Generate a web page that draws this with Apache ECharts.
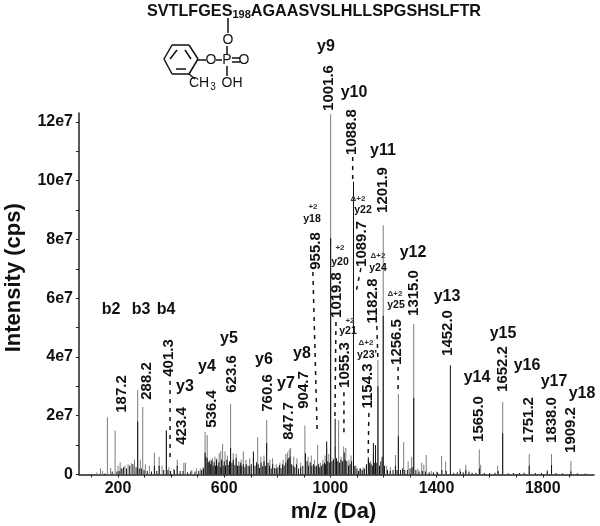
<!DOCTYPE html>
<html>
<head>
<meta charset="utf-8">
<style>
  html, body { margin: 0; padding: 0; background: #fff; }
  #chart { width: 600px; height: 526px; }
</style>
<script src="https://cdn.jsdelivr.net/npm/echarts@6/dist/echarts.min.js"></script>
</head>
<body>
<div id="chart"></div>
<script>
// ---------- Data (m/z, intensity in units of 1e7) ----------

const xTickLabels = [200, 600, 1000, 1400, 1800];
const xTicks = [100, 200, 300, 400, 500, 600, 700, 800, 900, 1000, 1100, 1200, 1300, 1400, 1500, 1600, 1700, 1800, 1900];
const yTickLabels = [0, 2, 4, 6, 8, 10, 12];
const yTicks = [0, 1, 2, 3, 4, 5, 6, 7, 8, 9, 10, 11, 12];

const greyPeaks = [
  [120, 0.07], [134, 0.2], [142, 0.12], [160, 1.95], [172, 0.22], [189, 1.5], [200, 0.3], [208, 0.42], [216, 0.2],
  [226, 0.3], [238, 0.35], [250, 0.38], [262, 0.5], [274, 2.87], [284, 0.5], [293, 2.3], [303, 0.35], [318, 0.3],
  [337, 0.74], [355, 0.6], [366, 0.3], [382, 1.5], [392, 0.25], [410, 0.2], [423, 0.5], [448, 0.4], [454, 0.4],
  [478, 0.15], [496, 0.2], [510, 0.2], [520, 0.25], [528, 1.45], [536, 1.34], [547, 0.5], [556, 0.55], [565, 0.6],
  [572, 0.55], [581, 0.72], [587, 0.8], [594, 1.04], [603, 0.78], [612, 0.65], [624, 2.4], [634, 0.72], [645, 0.7],
  [655, 0.45], [664, 0.5], [672, 0.78], [682, 0.5], [696, 0.55], [710, 0.6], [726, 1.27], [738, 0.6], [750, 0.65],
  [760, 1.85], [772, 0.5], [782, 0.55], [796, 0.35], [810, 0.4], [822, 0.5], [832, 0.7], [838, 0.75], [845, 0.85],
  [850, 0.9], [862, 0.6], [874, 0.55], [888, 0.4], [904, 1.67], [916, 0.6], [928, 0.65], [940, 0.5], [952, 1.0],
  [962, 0.4], [972, 0.5], [980, 0.65], [986, 0.9], [994, 0.7], [1001, 12.26], [1010, 0.55], [1018, 0.95], [1031, 1.85],
  [1040, 0.6], [1050, 0.95], [1058, 0.9], [1070, 0.5], [1078, 0.65], [1087, 2.0], [1096, 0.3], [1110, 0.2], [1124, 0.25],
  [1135, 0.3], [1143, 0.6], [1152, 0.45], [1162, 0.7], [1170, 0.75], [1179, 3.9], [1199, 8.48], [1212, 0.3], [1226, 0.25],
  [1245, 0.66], [1256, 2.74], [1276, 1.1], [1293, 0.44], [1306, 0.6], [1314, 5.12], [1330, 0.2], [1344, 0.4], [1352, 0.33],
  [1361, 0.66], [1380, 0.12], [1400, 0.1], [1419, 0.63], [1434, 0.44], [1488, 0.2], [1510, 0.33], [1561, 0.85], [1566, 0.33],
  [1630, 0.3], [1649, 2.47], [1749, 0.7], [1817, 0.15], [1833, 0.7], [1906, 0.46]
];

const blackPeaks = [
  [150, 0.03], [178, 0.1], [196, 0.1], [204, 0.12], [212, 0.2], [221, 0.25], [232, 0.2], [244, 0.3], [256, 0.35],
  [268, 0.25], [274, 1.8], [280, 0.2], [288, 0.2], [298, 0.15], [310, 0.12], [326, 0.1], [337, 0.3], [346, 0.12],
  [355, 0.3], [372, 0.15], [382, 1.5], [388, 0.15], [398, 0.12], [412, 0.15], [423, 0.3], [434, 0.12], [445, 0.12],
  [462, 0.08], [474, 0.1], [490, 0.1], [504, 0.12], [515, 0.15], [522, 0.2], [528, 0.75], [531, 0.6], [536, 0.55],
  [540, 0.42], [544, 0.45], [549, 0.35], [553, 0.48], [558, 0.3], [562, 0.42], [567, 0.3], [571, 0.5], [576, 0.3],
  [580, 0.42], [585, 0.25], [590, 0.5], [596, 0.3], [600, 0.45], [605, 0.3], [610, 0.5], [615, 0.32], [620, 0.45],
  [624, 0.9], [629, 0.4], [634, 0.5], [640, 0.32], [645, 0.55], [650, 0.3], [656, 0.3], [661, 0.4], [666, 0.3],
  [672, 0.35], [678, 0.25], [683, 0.35], [690, 0.3], [696, 0.28], [702, 0.35], [710, 0.78], [716, 0.3], [722, 0.42],
  [728, 0.35], [733, 0.22], [739, 0.4], [745, 0.28], [750, 0.45], [755, 0.3], [760, 1.07], [765, 0.4], [771, 0.3],
  [777, 0.2], [783, 0.35], [790, 0.22], [796, 0.2], [802, 0.25], [808, 0.32], [814, 0.22], [820, 0.35], [826, 0.3],
  [832, 0.4], [838, 0.5], [843, 0.55], [848, 0.6], [854, 0.35], [860, 0.3], [866, 0.25], [872, 0.35], [880, 0.2],
  [888, 0.25], [896, 0.3], [906, 0.72], [912, 0.45], [918, 0.3], [924, 0.42], [930, 0.3], [936, 0.35], [942, 0.28],
  [948, 0.3], [955, 0.35], [960, 0.25], [966, 0.3], [972, 0.35], [978, 0.4], [982, 0.35], [986, 1.12], [990, 0.45],
  [996, 0.4], [1001, 8.05], [1006, 0.45], [1012, 0.5], [1018, 1.9], [1023, 0.55], [1028, 0.45], [1034, 0.4], [1040, 0.5],
  [1046, 0.45], [1052, 0.75], [1056, 0.5], [1062, 0.45], [1068, 0.3], [1074, 0.35], [1080, 0.45], [1087, 9.96], [1092, 0.3],
  [1100, 0.2], [1106, 0.12], [1114, 0.2], [1120, 0.15], [1128, 0.2], [1136, 0.35], [1143, 0.55], [1148, 0.4], [1153, 0.35],
  [1158, 0.3], [1162, 1.07], [1167, 0.4], [1170, 1.0], [1175, 0.4], [1179, 3.0], [1185, 0.3], [1190, 0.45], [1195, 0.6],
  [1199, 5.4], [1204, 0.3], [1215, 0.15], [1225, 0.12], [1236, 0.15], [1245, 0.3], [1251, 0.15], [1256, 1.3], [1264, 0.15],
  [1272, 0.2], [1280, 0.15], [1290, 0.15], [1300, 0.2], [1308, 0.25], [1314, 2.6], [1322, 0.15], [1334, 0.1], [1346, 0.12],
  [1358, 0.1], [1372, 0.08], [1388, 0.08], [1404, 0.08], [1420, 0.15], [1436, 0.12], [1452, 3.72], [1465, 0.06], [1478, 0.08],
  [1490, 0.1], [1500, 0.08], [1510, 0.15], [1522, 0.1], [1534, 0.06], [1548, 0.06], [1561, 0.2], [1580, 0.05], [1600, 0.05],
  [1620, 0.06], [1632, 0.12], [1649, 1.4], [1670, 0.04], [1690, 0.05], [1712, 0.05], [1730, 0.06], [1749, 0.3], [1772, 0.05],
  [1795, 0.05], [1817, 0.1], [1833, 0.32], [1850, 0.05], [1875, 0.04], [1906, 0.1], [1930, 0.04], [1960, 0.03]
];

// Dashed leaders from a label down to its peak: [mz from, value from, mz to, value to]
const leaders = [
  [396, 3.18, 396, 0.43],
  [934, 6.89, 950, 1.51],
  [1021, 5.19, 1017, 1.92],
  [1051, 2.8, 1051, 1.27],
  [1084, 10.8, 1084, 10.0],
  [1115, 7.02, 1096, 6.17],
  [1145, 2.09, 1142, 0.56],
  [1175, 5.05, 1179, 3.9],
  [1255, 3.66, 1255, 2.8]
];

const sequenceHead = 'SVTLFGES';
const sequenceSite = '198';
const sequenceTail = 'AGAASVSLHLLSPGSHSLFTR';

// ---------- Annotation layout (pixels) ----------

const FONT = '"Liberation Sans", Arial, sans-serif';

const ionNames = [
  ['b2', 111, 310], ['b3', 141, 310], ['b4', 166, 310], ['y3', 185, 387], ['y4', 207, 367], ['y5', 229, 339],
  ['y6', 264, 360], ['y7', 286, 384], ['y8', 302, 354], ['y9', 326, 47], ['y10', 354, 93], ['y11', 383, 151],
  ['y12', 413, 253], ['y13', 447, 297], ['y14', 477, 378], ['y15', 503, 334], ['y16', 527, 366], ['y17', 554, 382],
  ['y18', 582, 394]
];

const massLabels = [
  ['187.2', 122, 394], ['288.2', 147, 381], ['401.3', 169, 358], ['423.4', 182, 426], ['536.4', 212, 409],
  ['623.6', 232, 374], ['760.6', 268, 393], ['847.7', 289, 421], ['904.7', 304, 390], ['955.8', 316, 251],
  ['1001.6', 329, 88], ['1019.8', 337, 295], ['1055.3', 345, 365], ['1088.8', 352, 132], ['1089.7', 362, 244],
  ['1154.3', 368, 386], ['1182.8', 373, 301], ['1201.9', 383, 190], ['1256.5', 397, 342], ['1315.0', 414, 293],
  ['1452.0', 448, 333], ['1565.0', 479, 419], ['1652.2', 503, 369], ['1751.2', 529, 420], ['1838.0', 552, 420],
  ['1909.2', 571, 430]
];

// small multiply-charged ion tags
const smallIons = [
  ['y18', 312, 219], ['y20', 340, 262], ['y21', 348, 331], ['y22', 363, 210], ['y23\'', 367, 355], ['y24', 378, 268], ['y25', 396, 305]
];
const chargeTags = [
  ['+2', 313, 207], ['+2', 340, 248], ['+2', 350, 321], ['\u0394+2', 358, 199], ['\u0394+2', 366, 343], ['\u0394+2', 378, 256], ['\u0394+2', 395, 294]
];

// ring, bonds of the tolyl phosphate sketch
const bonds = [
  [164, 59, 172, 45], [172, 45, 189, 45], [189, 45, 198, 59], [198, 59, 189, 74], [189, 74, 172, 74], [172, 74, 164, 59],
  [170, 59, 177, 50], [185, 50, 191, 59], [176, 69, 186, 69], [189, 74, 195, 79],
  [198, 60, 206, 60], [216, 60, 222, 60], [228, 18, 228, 33], [227, 46, 227, 54], [227, 66, 227, 76],
  [232, 58, 240, 58], [232, 62, 240, 62]
];
const atoms = [
  ['O', 228, 40], ['O', 211, 60], ['P', 227, 60], ['O', 244, 60], ['OH', 232, 83], ['CH', 199, 83]
];

function textEl(text, x, y, font, rotated, fill) {
  return {
    type: 'text', x, y, rotation: rotated ? Math.PI / 2 : 0, silent: true, z: 10,
    style: { text, font, fill: fill || '#111', textAlign: 'center', textVerticalAlign: 'middle' },
  };
}

function buildGraphics() {
  const els = [];
  ionNames.forEach(([t, x, y]) => els.push(textEl(t, x, y, `bold 16px ${FONT}`)));
  massLabels.forEach(([t, x, y]) => els.push(textEl(t, x, y, `bold 15px ${FONT}`, true)));
  smallIons.forEach(([t, x, y]) => els.push(textEl(t, x, y, `bold 10.5px ${FONT}`)));
  chargeTags.forEach(([t, x, y]) => els.push(textEl(t, x, y, `bold 8px ${FONT}`, false, '#333')));
  bonds.forEach(([x1, y1, x2, y2]) => els.push({
    type: 'line', silent: true, shape: { x1, y1, x2, y2 },
    style: { stroke: '#111', lineWidth: 1.5 },
  }));
  atoms.forEach(([t, x, y]) => els.push(textEl(t, x, y, `14px ${FONT}`)));
  els.push(textEl('3', 213, 87, `10px ${FONT}`));
  els.push({
    type: 'text', x: 147, y: 12, silent: true,
    style: {
      text: `${sequenceHead}{s|${sequenceSite}}${sequenceTail}`,
      font: `bold 16.2px ${FONT}`, fill: '#111', textAlign: 'left', textVerticalAlign: 'middle',
      rich: { s: { font: `bold 11px ${FONT}`, fill: '#111', verticalAlign: 'bottom', padding: [5, 0, 0, 0] } },
    },
  });
  return els;
}

// ---------- Chart ----------

const leaderPoints = [];
leaders.forEach(([x1, y1, x2, y2]) => {
  leaderPoints.push([x1, y1], [x2, y2], [null, null]);
});

const chart = echarts.init(document.getElementById('chart'), null, { renderer: 'canvas' });

chart.setOption({
  animation: false,
  backgroundColor: '#fff',
  textStyle: { fontFamily: FONT },
  grid: { left: 79, top: 113, width: 515, height: 361.5, outerBoundsMode: 'none' },
  xAxis: {
    type: 'value', min: 53, max: 1993,
    name: 'm/z (Da)', nameLocation: 'middle', nameGap: 26,
    nameTextStyle: { fontSize: 22, fontWeight: 'bold', color: '#111', padding: [0, 6, 0, 0] },
    splitLine: { show: false },
    axisLine: { lineStyle: { color: '#222', width: 1.5 } },
    axisTick: { length: 3, lineStyle: { color: '#222' }, customValues: xTicks },
    axisLabel: { fontSize: 16, fontWeight: 'bold', color: '#111', margin: 6, customValues: xTickLabels, formatter: (v) => String(v) },
  },
  yAxis: {
    type: 'value', min: 0, max: 12.3,
    name: 'Intensity (cps)', nameLocation: 'middle', nameGap: 54,
    nameTextStyle: { fontSize: 22, fontWeight: 'bold', color: '#111', padding: [0, 0, 0, 32] },
    splitLine: { show: false },
    axisLine: { show: true, lineStyle: { color: '#222', width: 1.5 } },
    axisTick: { show: true, length: 3, lineStyle: { color: '#222' }, customValues: yTicks },
    axisLabel: {
      fontSize: 16, fontWeight: 'bold', color: '#111', margin: 6, customValues: yTickLabels,
      formatter: (v) => (v === 0 ? '0' : `${v}e7`),
    },
  },
  series: [
    {
      type: 'bar', name: 'grey', data: greyPeaks, barWidth: 1, barGap: '-100%', silent: true,
      itemStyle: { color: '#7d7d7d' },
    },
    {
      type: 'bar', name: 'black', data: blackPeaks, barWidth: 1, barGap: '-100%', silent: true,
      itemStyle: { color: '#111' },
    },
    {
      type: 'line', name: 'leaders', data: leaderPoints, showSymbol: false, silent: true, connectNulls: false,
      lineStyle: { color: '#111', width: 1.5, type: [4, 5] },
    },
  ],
  graphic: buildGraphics(),
});
</script>
</body>
</html>
